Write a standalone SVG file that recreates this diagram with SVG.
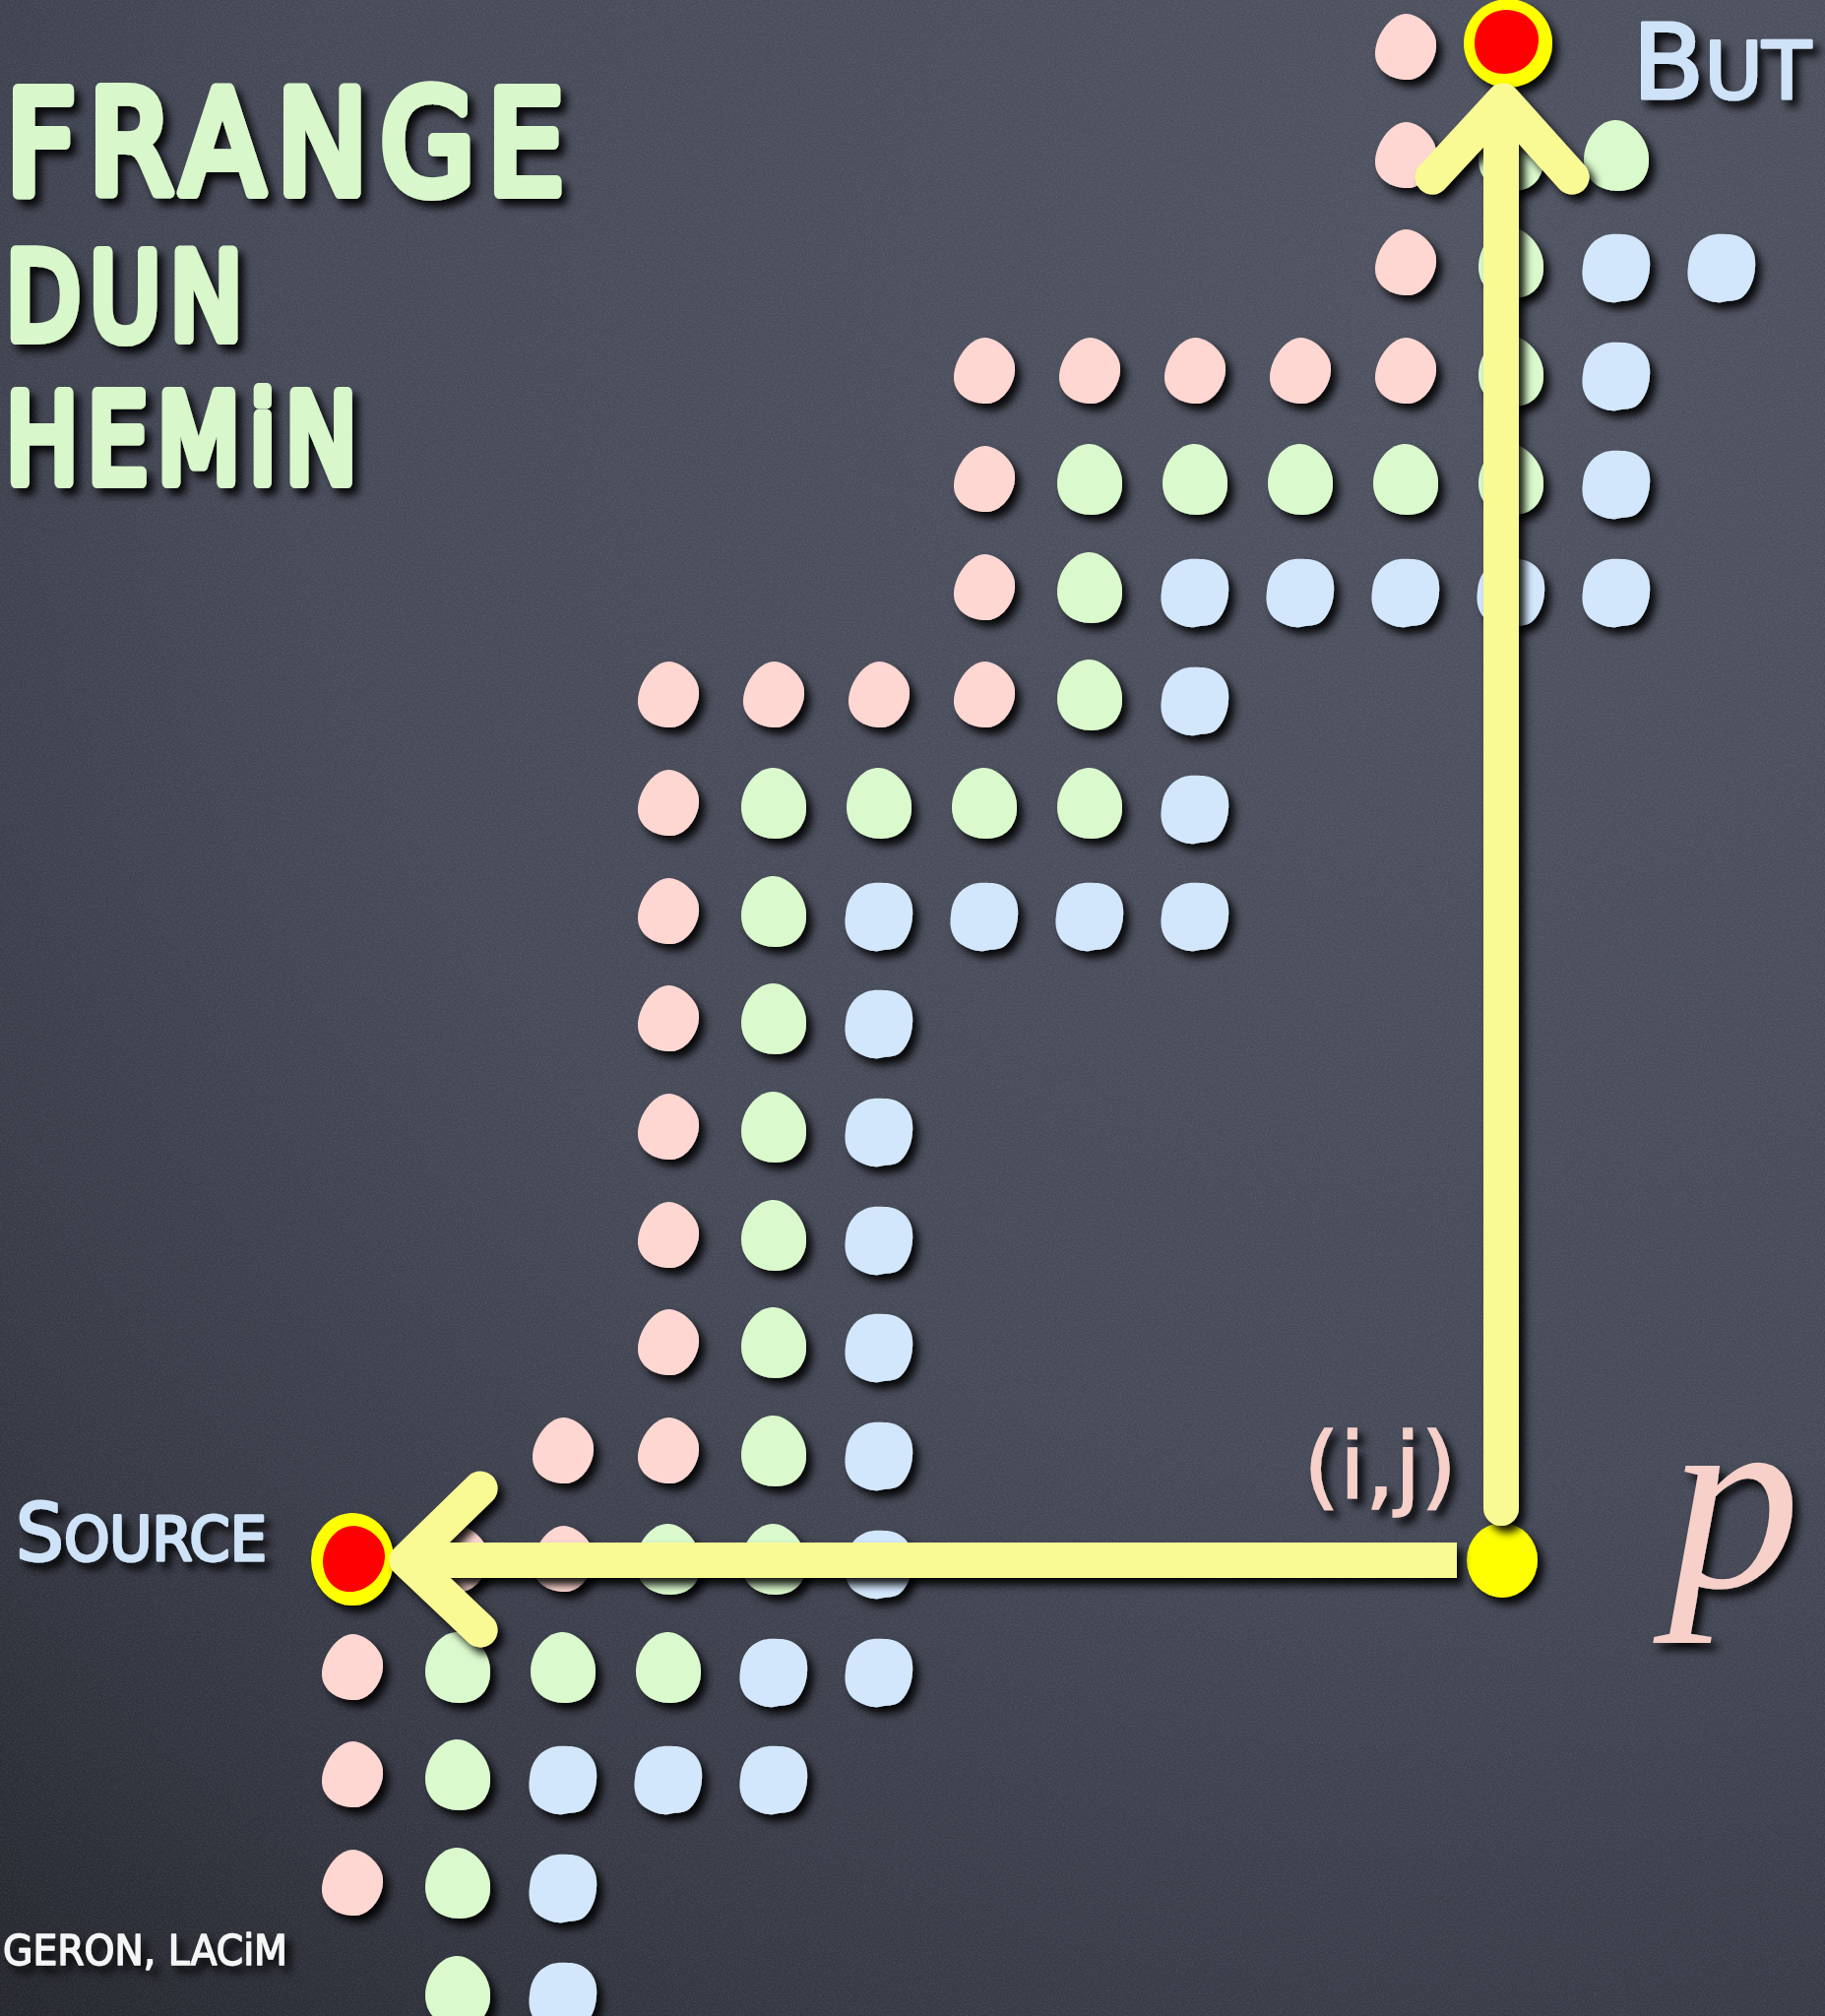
<svg xmlns="http://www.w3.org/2000/svg" width="1854" height="2048" viewBox="0 0 1854 2048">
<defs>
  <radialGradient id="board" cx="1500" cy="300" r="2450" gradientUnits="userSpaceOnUse">
    <stop offset="0" stop-color="#4f5361"/>
    <stop offset="0.5" stop-color="#454957"/>
    <stop offset="0.75" stop-color="#363945"/>
    <stop offset="1" stop-color="#1e2025"/>
  </radialGradient>
  <filter id="grain" filterUnits="userSpaceOnUse" x="0" y="0" width="1854" height="2048">
    <feTurbulence type="fractalNoise" baseFrequency="0.6" numOctaves="3" seed="7" result="t"/>
    <feColorMatrix in="t" type="matrix" values="0 0 0 0 1  0 0 0 0 1  0 0 0 0 1  0.35 0 0 0 -0.12"/>
  </filter>
  <filter id="shadow" x="-20%" y="-20%" width="140%" height="140%">
    <feGaussianBlur in="SourceAlpha" stdDeviation="4"/>
    <feOffset dx="6" dy="7" result="b"/>
    <feFlood flood-color="#000" flood-opacity="0.9"/>
    <feComposite in2="b" operator="in"/>
    <feMerge><feMergeNode/><feMergeNode in="SourceGraphic"/></feMerge>
  </filter>
  <path id="pk" fill="#fed7d2" d="M1,-34 C12,-34 30,-20 31,-4 C32,12 20,31 4,33 C-14,34 -30,24 -31,8 C-32,-10 -16,-34 1,-34 Z"/>
  <path id="gr" fill="#dafacd" d="M-2,-36 C14,-37 32,-18 33,2 C34,22 22,36 2,36 C-18,36 -33,24 -33,4 C-33,-16 -18,-35 -2,-36 Z"/>
  <path id="bl" fill="#d3e7fc" d="M6,-34 C20,-34 33,-24 34,-8 C35,6 31,20 22,29 C15,35 6,33 0,35 C-8,36 -16,33 -24,28 C-33,22 -36,10 -34,-2 C-33,-16 -26,-27 -14,-32 C-6,-35 0,-34 6,-34 Z"/>
</defs>
<style>
  .title { font-family: "DejaVu Sans", "Liberation Sans", sans-serif; fill: #d8f7cb; stroke: #d8f7cb; stroke-width: 12; stroke-linejoin: round; stroke-linecap: round; }
  .blue { font-family: "DejaVu Sans", "Liberation Sans", sans-serif; fill: #cfe3f8; stroke: #cfe3f8; stroke-width: 3; stroke-linejoin: round; }
  .pinkt { font-family: "DejaVu Sans", "Liberation Sans", sans-serif; fill: #f6d0c9; stroke: #f6d0c9; stroke-width: 1.5; }
  .credit { font-family: "DejaVu Sans", "Liberation Sans", sans-serif; fill: #f4f6f6; stroke: #f4f6f6; stroke-width: 1.5; stroke-linejoin: round; }
  .shaft { fill: none; stroke: #fafa95; stroke-width: 36; }
  .head { fill: none; stroke: #fafa95; stroke-width: 35; stroke-linecap: round; stroke-linejoin: round; }
</style>

<rect width="1854" height="2048" fill="url(#board)"/>
<rect width="1854" height="2048" filter="url(#grain)" opacity="0.45"/>

<g id="title" filter="url(#shadow)">
  <text class="title" x="6" y="196" font-size="144" letter-spacing="15" textLength="580" lengthAdjust="spacingAndGlyphs">FRANGE</text>
  <text class="title" x="6" y="344" font-size="122" letter-spacing="12" textLength="250" lengthAdjust="spacingAndGlyphs">DUN</text>
  <text class="title" x="6" y="490" font-size="124" letter-spacing="12" textLength="366" lengthAdjust="spacingAndGlyphs">HEMiN</text>
</g>

<g id="dots" filter="url(#shadow)">
  <g id="n-r0-c10"><use href="#pk" x="1428" y="48"/></g>

  <g id="n-r1-c10"><use href="#pk" x="1428" y="158"/></g>
  <g id="n-r1-c11"><use href="#gr" x="1535" y="158"/></g>
  <g id="n-r1-c12"><use href="#gr" x="1642" y="158"/></g>

  <g id="n-r2-c10"><use href="#pk" x="1428" y="267"/></g>
  <g id="n-r2-c11"><use href="#gr" x="1535" y="267"/></g>
  <g id="n-r2-c12"><use href="#bl" x="1642" y="272"/></g>
  <g id="n-r2-c13"><use href="#bl" x="1749" y="272"/></g>

  <g id="n-r3-c6"><use href="#pk" x="1000" y="377"/></g>
  <g id="n-r3-c7"><use href="#pk" x="1107" y="377"/></g>
  <g id="n-r3-c8"><use href="#pk" x="1214" y="377"/></g>
  <g id="n-r3-c9"><use href="#pk" x="1321" y="377"/></g>
  <g id="n-r3-c10"><use href="#pk" x="1428" y="377"/></g>
  <g id="n-r3-c11"><use href="#gr" x="1535" y="377"/></g>
  <g id="n-r3-c12"><use href="#bl" x="1642" y="382"/></g>

  <g id="n-r4-c6"><use href="#pk" x="1000" y="487"/></g>
  <g id="n-r4-c7"><use href="#gr" x="1107" y="487"/></g>
  <g id="n-r4-c8"><use href="#gr" x="1214" y="487"/></g>
  <g id="n-r4-c9"><use href="#gr" x="1321" y="487"/></g>
  <g id="n-r4-c10"><use href="#gr" x="1428" y="487"/></g>
  <g id="n-r4-c11"><use href="#gr" x="1535" y="487"/></g>
  <g id="n-r4-c12"><use href="#bl" x="1642" y="492"/></g>

  <g id="n-r5-c6"><use href="#pk" x="1000" y="597"/></g>
  <g id="n-r5-c7"><use href="#gr" x="1107" y="597"/></g>
  <g id="n-r5-c8"><use href="#bl" x="1214" y="602"/></g>
  <g id="n-r5-c9"><use href="#bl" x="1321" y="602"/></g>
  <g id="n-r5-c10"><use href="#bl" x="1428" y="602"/></g>
  <g id="n-r5-c11"><use href="#bl" x="1535" y="602"/></g>
  <g id="n-r5-c12"><use href="#bl" x="1642" y="602"/></g>

  <g id="n-r6-c3"><use href="#pk" x="679" y="706"/></g>
  <g id="n-r6-c4"><use href="#pk" x="786" y="706"/></g>
  <g id="n-r6-c5"><use href="#pk" x="893" y="706"/></g>
  <g id="n-r6-c6"><use href="#pk" x="1000" y="706"/></g>
  <g id="n-r6-c7"><use href="#gr" x="1107" y="706"/></g>
  <g id="n-r6-c8"><use href="#bl" x="1214" y="712"/></g>

  <g id="n-r7-c3"><use href="#pk" x="679" y="816"/></g>
  <g id="n-r7-c4"><use href="#gr" x="786" y="816"/></g>
  <g id="n-r7-c5"><use href="#gr" x="893" y="816"/></g>
  <g id="n-r7-c6"><use href="#gr" x="1000" y="816"/></g>
  <g id="n-r7-c7"><use href="#gr" x="1107" y="816"/></g>
  <g id="n-r7-c8"><use href="#bl" x="1214" y="822"/></g>

  <g id="n-r8-c3"><use href="#pk" x="679" y="926"/></g>
  <g id="n-r8-c4"><use href="#gr" x="786" y="926"/></g>
  <g id="n-r8-c5"><use href="#bl" x="893" y="931"/></g>
  <g id="n-r8-c6"><use href="#bl" x="1000" y="931"/></g>
  <g id="n-r8-c7"><use href="#bl" x="1107" y="931"/></g>
  <g id="n-r8-c8"><use href="#bl" x="1214" y="931"/></g>

  <g id="n-r9-c3"><use href="#pk" x="679" y="1035"/></g>
  <g id="n-r9-c4"><use href="#gr" x="786" y="1035"/></g>
  <g id="n-r9-c5"><use href="#bl" x="893" y="1040"/></g>

  <g id="n-r10-c3"><use href="#pk" x="679" y="1145"/></g>
  <g id="n-r10-c4"><use href="#gr" x="786" y="1145"/></g>
  <g id="n-r10-c5"><use href="#bl" x="893" y="1150"/></g>

  <g id="n-r11-c3"><use href="#pk" x="679" y="1255"/></g>
  <g id="n-r11-c4"><use href="#gr" x="786" y="1255"/></g>
  <g id="n-r11-c5"><use href="#bl" x="893" y="1260"/></g>

  <g id="n-r12-c3"><use href="#pk" x="679" y="1364"/></g>
  <g id="n-r12-c4"><use href="#gr" x="786" y="1364"/></g>
  <g id="n-r12-c5"><use href="#bl" x="893" y="1369"/></g>

  <g id="n-r13-c2"><use href="#pk" x="572" y="1474"/></g>
  <g id="n-r13-c3"><use href="#pk" x="679" y="1474"/></g>
  <g id="n-r13-c4"><use href="#gr" x="786" y="1474"/></g>
  <g id="n-r13-c5"><use href="#bl" x="893" y="1479"/></g>

  <g id="n-r14-c1"><use href="#pk" x="465" y="1584"/></g>
  <g id="n-r14-c2"><use href="#pk" x="572" y="1584"/></g>
  <g id="n-r14-c3"><use href="#gr" x="679" y="1584"/></g>
  <g id="n-r14-c4"><use href="#gr" x="786" y="1584"/></g>
  <g id="n-r14-c5"><use href="#bl" x="893" y="1589"/></g>

  <g id="n-r15-c0"><use href="#pk" x="358" y="1694"/></g>
  <g id="n-r15-c1"><use href="#gr" x="465" y="1694"/></g>
  <g id="n-r15-c2"><use href="#gr" x="572" y="1694"/></g>
  <g id="n-r15-c3"><use href="#gr" x="679" y="1694"/></g>
  <g id="n-r15-c4"><use href="#bl" x="786" y="1699"/></g>
  <g id="n-r15-c5"><use href="#bl" x="893" y="1699"/></g>

  <g id="n-r16-c0"><use href="#pk" x="358" y="1803"/></g>
  <g id="n-r16-c1"><use href="#gr" x="465" y="1803"/></g>
  <g id="n-r16-c2"><use href="#bl" x="572" y="1808"/></g>
  <g id="n-r16-c3"><use href="#bl" x="679" y="1808"/></g>
  <g id="n-r16-c4"><use href="#bl" x="786" y="1808"/></g>

  <g id="n-r17-c0"><use href="#pk" x="358" y="1913"/></g>
  <g id="n-r17-c1"><use href="#gr" x="465" y="1913"/></g>
  <g id="n-r17-c2"><use href="#bl" x="572" y="1918"/></g>

  <g id="n-r18-c1"><use href="#gr" x="465" y="2023"/></g>
  <g id="n-r18-c2"><use href="#bl" x="572" y="2028"/></g>
</g>

<g id="node-but" filter="url(#shadow)">
  <ellipse cx="1532" cy="44" rx="45" ry="45" fill="#ffff00"/>
  <path fill="#ff0000" d="M1530,10 C1550,10 1563,24 1563,40 C1563,60 1548,75 1528,75 C1510,75 1498,62 1498,44 C1498,24 1512,10 1530,10 Z"/>
</g>
<g id="node-source" filter="url(#shadow)">
  <ellipse cx="358" cy="1584" rx="42" ry="47" fill="#ffff00"/>
  <path fill="#ff0000" d="M360,1550 C378,1552 392,1566 391,1582 C390,1600 375,1616 357,1617 C340,1618 328,1604 328,1586 C329,1566 342,1550 360,1550 Z"/>
</g>
<g id="node-p" filter="url(#shadow)">
  <ellipse cx="1526" cy="1585" rx="36" ry="38" fill="#ffff00"/>
</g>

<g id="connectors" filter="url(#shadow)">
  <g id="edge-p-but">
    <path class="shaft" d="M1525,1532 V110" stroke-linecap="round"/>
    <polyline class="head" points="1455,180 1527,102 1597,180"/>
  </g>
  <g id="edge-p-source">
    <path class="shaft" d="M1480,1585 H425"/>
    <polyline class="head" points="488,1512 413,1585 488,1656"/>
  </g>
</g>

<g id="labels" filter="url(#shadow)">
  <text id="label-but" class="blue" x="1658" y="100" textLength="182" lengthAdjust="spacingAndGlyphs"><tspan font-size="106">B</tspan><tspan font-size="80">UT</tspan></text>
  <text id="label-source" class="blue" x="16" y="1585" textLength="255" lengthAdjust="spacingAndGlyphs"><tspan font-size="81">S</tspan><tspan font-size="62">OURCE</tspan></text>
  <text id="label-ij" class="pinkt" x="1324" y="1522" font-size="92" textLength="156" lengthAdjust="spacingAndGlyphs">(i,j)</text>
  <text id="label-p" x="1695" y="1612" font-family="Liberation Serif, serif" font-style="italic" font-size="268" fill="#f6d0c9">p</text>
  <text id="credit" class="credit" x="3" y="1996" font-size="42" textLength="289" lengthAdjust="spacingAndGlyphs">GERON, LACiM</text>
</g>
</svg>
